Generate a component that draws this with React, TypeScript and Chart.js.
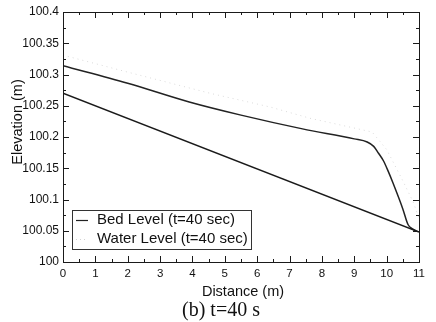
import React, { useEffect, useRef } from "react";
import { Chart, registerables } from "chart.js";

Chart.register(...registerables);

// Bed level (straight lower line)
const bedDistance = [0, 11];
const bedLevel = [100.27, 100.048];

// Upper computed profile (solid)
const profileDistance = [0, 2, 3.9, 5.5, 7.4, 9.0, 9.4, 9.6, 9.75, 9.9, 10.05, 10.2, 10.5, 10.66, 10.8, 10.95];
const profileLevel = [100.314, 100.286, 100.256, 100.235, 100.213, 100.197, 100.192, 100.185, 100.174, 100.162, 100.145, 100.126, 100.085, 100.06, 100.053, 100.049];

// Water level (faint dotted)
const waterDistance = [0, 1.76, 4.54, 6.4, 7.63, 9.55, 10.0, 10.5, 10.82, 11];
const waterLevel = [100.331, 100.307, 100.27, 100.248, 100.23, 100.208, 100.18, 100.13, 100.096, 100.07];

const xTicks = [0, 1, 2, 3, 4, 5, 6, 7, 8, 9, 10, 11];
const yTicks = [100, 100.05, 100.1, 100.15, 100.2, 100.25, 100.3, 100.35, 100.4];
const yTickLabels = ["100", "100.05", "100.1", "100.15", "100.2", "100.25", "100.3", "100.35", "100.4"];

const legendLabels = ["Bed Level (t=40 sec)", "Water Level (t=40 sec)"];
const xTitle = "Distance (m)";
const yTitle = "Elevation (m)";
const caption = "(b) t=40 s";

const SANS = "'Liberation Sans', Arial, Helvetica, sans-serif";
const SERIF = "'Liberation Serif', 'Times New Roman', serif";

const toPts = (xs: number[], ys: number[]) => xs.map((x, i) => ({ x, y: ys[i] }));

export default function App() {
  const ref = useRef<HTMLCanvasElement | null>(null);

  useEffect(() => {
    if (!ref.current) return;
    const decor = {
      id: "decor",
      afterDraw(chart: any) {
        const ctx = chart.ctx as CanvasRenderingContext2D;
        const xs = chart.scales.x;
        const ys = chart.scales.y;
        const L = xs.left, R = xs.right, T = ys.top, B = ys.bottom;
        ctx.save();
        // frame
        ctx.strokeStyle = "#1a1a1a";
        ctx.lineWidth = 1;
        ctx.strokeRect(Math.round(L) + 0.5, Math.round(T) + 0.5, Math.round(R - L), Math.round(B - T));
        // ticks
        ctx.beginPath();
        for (let v = 0; v <= 11.0001; v += 0.5) {
          const px = Math.round(xs.getPixelForValue(v)) + 0.5;
          const len = Math.abs(v - Math.round(v)) < 1e-6 ? 6 : 3;
          ctx.moveTo(px, B); ctx.lineTo(px, B - len);
          ctx.moveTo(px, T); ctx.lineTo(px, T + len);
        }
        for (let k = 0; k <= 16; k++) {
          const v = 100 + k * 0.025;
          const py = Math.round(ys.getPixelForValue(v)) + 0.5;
          const len = k % 2 === 0 ? 6 : 3;
          ctx.moveTo(L, py); ctx.lineTo(L + len, py);
          ctx.moveTo(R, py); ctx.lineTo(R - len, py);
        }
        ctx.stroke();

        // axis titles
        ctx.fillStyle = "#111";
        ctx.font = `14.5px ${SANS}`;
        ctx.textAlign = "center";
        ctx.textBaseline = "middle";
        ctx.fillText(xTitle, (L + R) / 2 + 2, 292);
        ctx.save();
        ctx.translate(18, 122);
        ctx.rotate(-Math.PI / 2);
        ctx.fillText(yTitle, 0, 0);
        ctx.restore();

        // caption
        ctx.font = `20px ${SERIF}`;
        ctx.fillText(caption, 221, 311);

        // legend
        const lx = 72, ly = 210, lw = 179, lh = 39;
        ctx.fillStyle = "#fff";
        ctx.fillRect(lx, ly, lw, lh);
        ctx.strokeStyle = "#333";
        ctx.lineWidth = 1;
        ctx.strokeRect(lx + 0.5, ly + 0.5, lw, lh);
        ctx.beginPath();
        ctx.strokeStyle = "#222";
        ctx.lineWidth = 1.2;
        ctx.moveTo(76, 220.5); ctx.lineTo(88, 220.5);
        ctx.stroke();
        ctx.beginPath();
        ctx.strokeStyle = "#d4d4d4";
        ctx.setLineDash([1, 3]);
        ctx.lineWidth = 1;
        ctx.moveTo(76, 239.5); ctx.lineTo(88, 239.5);
        ctx.stroke();
        ctx.setLineDash([]);
        ctx.fillStyle = "#111";
        ctx.font = `15px ${SANS}`;
        ctx.textAlign = "left";
        ctx.fillText(legendLabels[0], 97, 220);
        ctx.fillText(legendLabels[1], 97, 239);
        ctx.restore();
      },
    };

    const chart = new Chart(ref.current, {
      type: "line",
      data: {
        datasets: [
          {
            label: legendLabels[0],
            data: toPts(bedDistance, bedLevel),
            borderColor: "#1a1a1a",
            borderWidth: 1.5,
            pointRadius: 0,
            tension: 0,
          },
          {
            label: "Profile",
            data: toPts(profileDistance, profileLevel),
            borderColor: "#222",
            borderWidth: 1.5,
            pointRadius: 0,
            tension: 0.3,
            cubicInterpolationMode: "monotone",
          },
          {
            label: legendLabels[1],
            data: toPts(waterDistance, waterLevel),
            borderColor: "#dadada",
            borderWidth: 1,
            borderDash: [1, 4],
            pointRadius: 0,
            tension: 0,
          },
        ],
      },
      options: {
        animation: false,
        responsive: false,
        devicePixelRatio: 1,
        layout: { padding: { left: 0, top: 12, right: 17, bottom: 0 } },
        plugins: { legend: { display: false }, title: { display: false }, tooltip: { enabled: false } },
        scales: {
          x: {
            type: "linear",
            min: 0,
            max: 11,
            grid: { display: false, drawTicks: false },
            border: { display: false },
            afterBuildTicks: (s: any) => { s.ticks = xTicks.map((v) => ({ value: v })); },
            afterFit: (s: any) => { s.height = 60; },
            ticks: {
              padding: 5,
              color: "#111",
              font: { family: SANS, size: 11.5 },
              maxRotation: 0,
              autoSkip: false,
              callback: (v: any) => String(v),
            },
          },
          y: {
            type: "linear",
            min: 100,
            max: 100.4,
            grid: { display: false, drawTicks: false },
            border: { display: false },
            afterBuildTicks: (s: any) => { s.ticks = yTicks.map((v) => ({ value: v })); },
            afterFit: (s: any) => { s.width = 63; },
            ticks: {
              padding: 4,
              color: "#111",
              font: { family: SANS, size: 12 },
              autoSkip: false,
              callback: (_v: any, i: number) => yTickLabels[i],
            },
          },
        },
      },
      plugins: [decor],
    } as any);
    return () => chart.destroy();
  }, []);

  return (
    <div style={{ position: "fixed", left: 0, top: 0, width: 436, height: 322, background: "#fff" }}>
      <canvas ref={ref} width={436} height={322} style={{ display: "block", width: 436, height: 322 }} />
    </div>
  );
}
